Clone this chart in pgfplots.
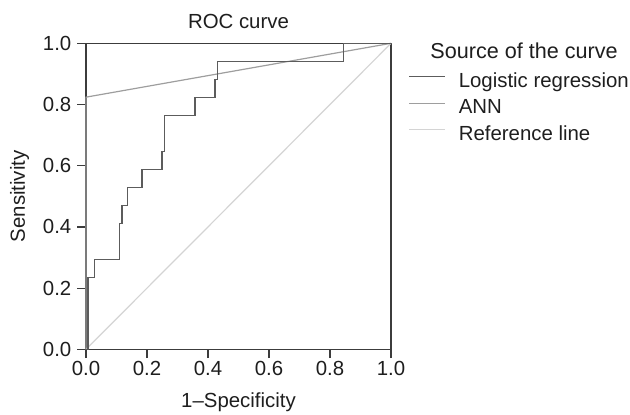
\documentclass[border=0pt]{standalone}
\usepackage{pgfplots}
\pgfplotsset{compat=1.18}
\usepackage{fontspec}
\setmainfont{Liberation Sans}
\definecolor{logit}{RGB}{92,92,92}
\definecolor{ann}{RGB}{158,158,158}
\definecolor{refl}{RGB}{212,212,212}
\definecolor{frame}{RGB}{60,60,60}
\definecolor{txt}{RGB}{30,30,30}
\begin{document}
\begin{tikzpicture}[font=\fontsize{10.2}{12}\selectfont]
\begin{axis}[
    name=ax,
    scale only axis,
    width=152.5pt, height=153pt,
    xmin=0, xmax=1, ymin=0, ymax=1,
    xtick={0,0.2,...,1}, ytick={0,0.2,...,1},
    tick align=outside,
    xtick pos=bottom, ytick pos=left,
    major tick length=4.35pt,
    tick style={frame, line width=0.6pt},
    axis line style={frame, line width=0.65pt},
    xticklabel style={txt, anchor=north, inner sep=0pt, text height=7.3pt, yshift=-1.4pt},
    yticklabel style={txt, anchor=east, inner sep=0pt, xshift=-2.8pt},
    /pgf/number format/.cd, fixed, fixed zerofill, precision=1, assume math mode=true,
    /pgfplots/.cd,
    title={ROC curve},
    every axis title shift=0pt,
    title style={at={(axis description cs:0.5,1.049)}, anchor=base, yshift=0pt, inner sep=0pt, txt},
    xlabel={1–Specificity},
    xlabel style={at={(axis description cs:0.5,-0.19)}, anchor=base, inner sep=0pt, txt},
    ylabel={Sensitivity},
    ylabel style={at={(axis description cs:-0.2,0.5)}, anchor=base, inner sep=0pt, txt},
    clip=false,
    legend cell align=left,
    legend style={at={(axis description cs:1.056,0.906)}, anchor=north west, draw=none, fill=none,
        inner sep=0pt, row sep=3.55pt,
        nodes={inner sep=0pt, text height=7.5pt, text depth=2.2pt, txt},
        column sep=6.5pt},
    legend image code/.code={\draw[#1] (0pt,2.75pt) -- (18pt,2.75pt);},
]
\addplot[refl, line width=0.6pt, forget plot] coordinates {(0,0) (1,1)};
\addplot[ann, line width=0.6pt, forget plot] coordinates {(0,0) (0,0.824) (1,1)};
\addplot[logit, line width=0.65pt, forget plot] coordinates {
    (0,0) (0.007,0) (0.007,0.235) (0.027,0.235) (0.027,0.294)
    (0.110,0.294) (0.110,0.412) (0.118,0.412) (0.118,0.471)
    (0.136,0.471) (0.136,0.529) (0.184,0.529) (0.184,0.588)
    (0.249,0.588) (0.249,0.647) (0.257,0.647) (0.257,0.765)
    (0.357,0.765) (0.357,0.824) (0.423,0.824) (0.423,0.882)
    (0.430,0.882) (0.430,0.941) (0.845,0.941) (0.845,1) (1,1)
};
\addlegendimage{logit, line width=0.65pt}
\addlegendentry{Logistic regression}
\addlegendimage{ann, line width=0.6pt}
\addlegendentry{ANN}
\addlegendimage{refl, line width=0.6pt}
\addlegendentry{Reference line}
\node[anchor=base west, inner sep=0pt, txt, font=\fontsize{10.8}{13}\selectfont] at (axis description cs:1.128,0.951) {Source of the curve};
\end{axis}
\pgfresetboundingbox
\path[use as bounding box] ([shift={(-43pt,-32.35pt)}]ax.south west) rectangle ++(315pt,207pt);
\end{tikzpicture}
\end{document}
